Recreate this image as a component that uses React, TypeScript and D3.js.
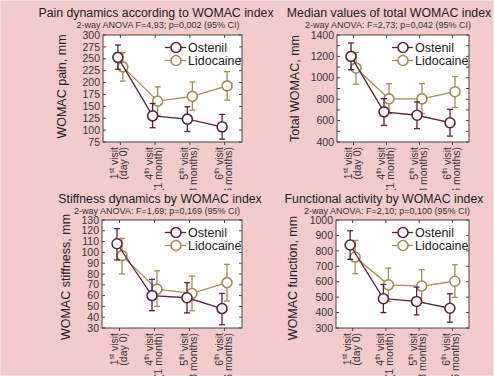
import React, { useRef, useEffect } from "react";
import * as d3 from "d3";

// visits on the x axis
const visits = ["1st", "4th", "5th", "6th"];
const visitPeriods = ["(day 0)", "(1 month)", "(3 months)", "(6 months)"];
const seriesNames = ["Ostenil", "Lidocaine"];

// pain
const painOstenil = [253, 130, 123, 107];
const painOstenilLo = [228, 105, 97, 81];
const painOstenilHi = [279, 156, 149, 133];
const painLidocaine = [233, 161, 171, 193];
const painLidocaineLo = [203, 131, 142, 163];
const painLidocaineHi = [263, 191, 201, 223];

// total
const totalOstenil = [1200, 682, 650, 580];
const totalOstenilLo = [1075, 555, 525, 455];
const totalOstenilHi = [1325, 805, 775, 705];
const totalLidocaine = [1092, 803, 803, 870];
const totalLidocaineLo = [940, 665, 665, 722];
const totalLidocaineHi = [1237, 945, 945, 1012];

// stiffness
const stiffOstenil = [108, 60, 58, 48];
const stiffOstenilLo = [93, 46, 44, 33];
const stiffOstenilHi = [122, 75, 72, 62];
const stiffLidocaine = [97, 66, 62, 72];
const stiffLidocaineLo = [80, 50, 46, 55];
const stiffLidocaineHi = [113, 83, 78, 89];

// function
const funcOstenil = [838, 490, 472, 428];
const funcOstenilLo = [745, 400, 385, 338];
const funcOstenilHi = [930, 582, 565, 522];
const funcLidocaine = [760, 580, 572, 603];
const funcLidocaineLo = [652, 472, 465, 498];
const funcLidocaineHi = [868, 688, 678, 710];

const panels = [
  {
    title: "Pain dynamics according to WOMAC index",
    subtitle: "2-way ANOVA F=4,93; p=0,002 (95% CI)",
    yLabel: "WOMAC pain, mm",
    box: [103, 242, 35, 142], titleX: 156, subX: 158, titleY: 17, yLabelX: 62, yLabelDy: -2,
    domain: [75, 300], labelStep: 25, tickStep: 25,
    series: [
      [painOstenil, painOstenilLo, painOstenilHi],
      [painLidocaine, painLidocaineLo, painLidocaineHi],
    ],
  },
  {
    title: "Median values of total WOMAC index",
    subtitle: "2-way ANOVA: F=2,73; p=0,042 (95% CI)",
    yLabel: "Total WOMAC, mm",
    box: [337, 469, 35, 142], titleX: 389, subX: 388, titleY: 17, yLabelX: 295, yLabelDy: 0,
    domain: [400, 1400], labelStep: 200, tickStep: 100,
    series: [
      [totalOstenil, totalOstenilLo, totalOstenilHi],
      [totalLidocaine, totalLidocaineLo, totalLidocaineHi],
    ],
  },
  {
    title: "Stiffness dynamics by WOMAC index",
    subtitle: "2-way ANOVA: F=1,69; p=0,169 (95% CI)",
    yLabel: "WOMAC stiffness, mm",
    box: [102, 242, 220, 328], titleX: 160, subX: 157, titleY: 203, yLabelX: 66, yLabelDy: 3,
    domain: [30, 130], labelStep: 10, tickStep: 10,
    series: [
      [stiffOstenil, stiffOstenilLo, stiffOstenilHi],
      [stiffLidocaine, stiffLidocaineLo, stiffLidocaineHi],
    ],
  },
  {
    title: "Functional activity by WOMAC index",
    subtitle: "2-way ANOVA: F=2,10; p=0,100 (95% CI)",
    yLabel: "WOMAC function, mm",
    box: [336, 469, 220, 328], titleX: 384, subX: 387, titleY: 203, yLabelX: 293, yLabelDy: 4,
    domain: [300, 1000], labelStep: 100, tickStep: 100,
    series: [
      [funcOstenil, funcOstenilLo, funcOstenilHi],
      [funcLidocaine, funcLidocaineLo, funcLidocaineHi],
    ],
  },
];

const colors = ["#5a2142", "#a08e52"];
const font = "'Liberation Sans', Arial, sans-serif";

const App = () => {
  const svgRef = useRef(null);

  useEffect(() => {
    document.body.style.margin = "0";
    const svg = d3.select(svgRef.current);
    svg.selectAll("*").remove();

    svg.append("rect").attr("width", 494).attr("height", 376).attr("fill", "#f4cbcb");
    svg.append("rect").attr("x", 0.5).attr("y", 0.5).attr("width", 493).attr("height", 375)
      .attr("fill", "none").attr("stroke", "#efe2e2");

    const defs = svg.append("defs");
    defs.append("clipPath").attr("id", "topClip")
      .append("rect").attr("x", 0).attr("y", 0).attr("width", 494).attr("height", 190);

    panels.forEach((p, pi) => {
      const [left, right, top, bottom] = p.box;
      const g = svg.append("g").attr("font-family", font);
      if (pi < 2) g.attr("clip-path", "url(#topClip)");

      const x = d3.scalePoint().domain(visits).range([left, right]).padding(0.5);
      const y = d3.scaleLinear().domain(p.domain).range([bottom, top]);
      const dodge = [-2.5, 2.5];

      g.append("text").attr("x", p.titleX).attr("y", p.titleY)
        .attr("text-anchor", "middle").attr("font-size", 12.3).attr("fill", "#222").text(p.title);
      g.append("text").attr("x", p.subX).attr("y", p.titleY + 11)
        .attr("text-anchor", "middle").attr("font-size", 9).attr("fill", "#333").text(p.subtitle);

      g.append("rect").attr("x", left).attr("y", top)
        .attr("width", right - left).attr("height", bottom - top)
        .attr("fill", "#fff").attr("stroke", "#444").attr("stroke-width", 1);

      // y ticks
      const minor = d3.range(p.domain[0], p.domain[1] + 0.001, p.tickStep);
      const major = d3.range(p.domain[0], p.domain[1] + 0.001, p.labelStep);
      minor.forEach((v) => {
        g.append("line").attr("x1", left).attr("x2", left + 3)
          .attr("y1", y(v)).attr("y2", y(v)).attr("stroke", "#444");
        g.append("line").attr("x1", right - 3).attr("x2", right)
          .attr("y1", y(v)).attr("y2", y(v)).attr("stroke", "#444");
      });
      g.selectAll(".ylab").data(major).join("text")
        .attr("x", left - 3).attr("y", (d) => y(d)).attr("dy", "0.35em")
        .attr("text-anchor", "end").attr("font-size", 10.5).attr("fill", "#333")
        .text((d) => d);

      g.append("text")
        .attr("transform", `translate(${p.yLabelX},${(top + bottom) / 2 + p.yLabelDy}) rotate(-90)`)
        .attr("dy", "0.35em").attr("text-anchor", "middle")
        .attr("font-size", 12.5).attr("fill", "#222").text(p.yLabel);

      // x ticks and labels
      visits.forEach((v, i) => {
        const cx = x(v);
        g.append("line").attr("x1", cx).attr("x2", cx).attr("y1", top).attr("y2", top + 3).attr("stroke", "#444");
        g.append("line").attr("x1", cx).attr("x2", cx).attr("y1", bottom).attr("y2", bottom + 3).attr("stroke", "#444");
        const t1 = g.append("text")
          .attr("transform", `translate(${cx - 2},${bottom + 5}) rotate(-90)`)
          .attr("text-anchor", "end").attr("font-size", 10.5).attr("fill", "#333");
        t1.append("tspan").text(v[0]);
        t1.append("tspan").attr("font-size", 7).attr("dy", -4).text(v.slice(1));
        t1.append("tspan").attr("dy", 4).text(" visit");
        g.append("text")
          .attr("transform", `translate(${cx + 7},${bottom + 5}) rotate(-90)`)
          .attr("text-anchor", "end").attr("font-size", 10.5).attr("fill", "#333")
          .text(visitPeriods[i]);
      });

      // series, Lidocaine first so Ostenil sits on top
      [1, 0].forEach((si) => {
        const [mean, lo, hi] = p.series[si];
        const px = (i) => x(visits[i]) + dodge[si];
        const line = d3.line().x((_, i) => px(i)).y((d) => y(d));
        g.append("path").attr("d", line(mean)).attr("fill", "none")
          .attr("stroke", colors[si]).attr("stroke-width", 1.3);
        mean.forEach((m, i) => {
          const cx = px(i);
          g.append("line").attr("x1", cx).attr("x2", cx).attr("y1", y(lo[i])).attr("y2", y(hi[i]))
            .attr("stroke", colors[si]).attr("stroke-width", 1.3);
          [lo[i], hi[i]].forEach((e) => {
            g.append("line").attr("x1", cx - 3).attr("x2", cx + 3).attr("y1", y(e)).attr("y2", y(e))
              .attr("stroke", colors[si]).attr("stroke-width", 1.3);
          });
          g.append("circle").attr("cx", cx).attr("cy", y(m)).attr("r", 5)
            .attr("fill", "#fff").attr("stroke", colors[si]).attr("stroke-width", 1.6);
        });
      });

      // legend
      const lx = right - 54;
      seriesNames.forEach((name, si) => {
        const ly = top + 12.5 + si * 13;
        g.append("line").attr("x1", lx - 23).attr("x2", lx - 2).attr("y1", ly).attr("y2", ly)
          .attr("stroke", colors[si]).attr("stroke-width", 1.3);
        g.append("circle").attr("cx", lx - 12).attr("cy", ly).attr("r", 5)
          .attr("fill", "#fff").attr("stroke", colors[si]).attr("stroke-width", 1.6);
        g.append("text").attr("x", lx).attr("y", ly).attr("dy", "0.35em")
          .attr("font-size", 12.5).attr("fill", "#222").text(name);
      });
    });
  }, []);

  return <svg ref={svgRef} width={494} height={376} style={{ display: "block" }}></svg>;
};

export default App;
